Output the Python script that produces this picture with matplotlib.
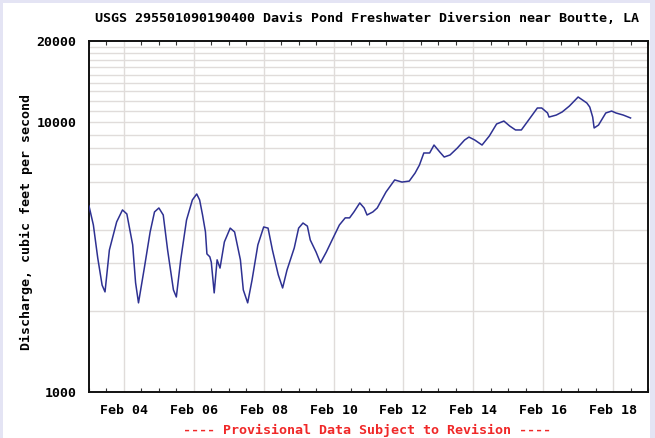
import matplotlib
matplotlib.use("Agg")
import matplotlib.pyplot as plt
import matplotlib.dates as mdates
from matplotlib.patches import Rectangle
from matplotlib.ticker import FixedLocator, NullFormatter, FixedFormatter
import pandas as pd

# Data: hours since Feb 03 00:00 and discharge (cfs)
hours = [0, 3, 6, 9, 11, 14, 19, 23, 26, 30, 32, 34, 38, 42, 45, 48, 51, 54, 58, 60,
         63, 67, 71, 74, 76, 78, 80, 81, 83, 84, 86, 88, 90, 93, 97, 100, 104, 106, 109,
         112, 116, 120, 123, 126, 130, 133, 136, 141, 144, 147, 150, 152, 156, 159, 163,
         167, 172, 176, 179, 182, 186, 189, 191, 195, 198, 204, 210, 215, 220, 224, 227,
         230, 234, 237, 241, 244, 248, 253, 258, 261, 265, 270, 275, 280, 285, 289, 293,
         297, 302, 308, 311, 315, 316, 321, 325, 330, 336, 339, 342, 344, 346, 347, 350,
         355, 359, 362, 367, 372]
discharge = [4890, 4160, 3140, 2490, 2350, 3360, 4270, 4730, 4570, 3510, 2540, 2140, 2880,
             3920, 4650, 4810, 4530, 3360, 2390, 2250, 3090, 4340, 5150, 5420, 5150, 4530,
             3920, 3250, 3170, 3030, 2330, 3090, 2880, 3600, 4050, 3920, 3090, 2390, 2140,
             2600, 3510, 4090, 4050, 3360, 2720, 2430, 2830, 3420, 4050, 4230, 4120, 3660,
             3300, 3010, 3300, 3660, 4160, 4420, 4420, 4650, 5020, 4810, 4530, 4650, 4810,
             5510, 6110, 6000, 6050, 6480, 6940, 7690, 7690, 8230, 7750, 7430, 7560, 8020,
             8590, 8810, 8590, 8230, 8890, 9850, 10100, 9680, 9360, 9360, 10190, 11290,
             11290, 10820, 10450, 10630, 10910, 11480, 12400, 12090, 11780, 11380, 10450,
             9520, 9760, 10820, 11000, 10820, 10630, 10370]

start = pd.Timestamp("2013-02-03")
times = start + pd.to_timedelta(hours, unit="h")

mono = "DejaVu Sans Mono"

fig = plt.figure(figsize=(6.55, 4.38), dpi=100, facecolor="#E4E4F4")
fig.patches.append(Rectangle((3 / 655, 0), 647 / 655, 435 / 438,
                             transform=fig.transFigure, facecolor="white",
                             edgecolor="none", zorder=-5))

ax = fig.add_axes([89 / 655, 1 - 392 / 438, (648 - 89) / 655, (392 - 41) / 438])
ax.set_zorder(2)
ax.plot(times, discharge, color="#2E3192", linewidth=1.1, zorder=3)

ax.set_yscale("log")
ax.set_ylim(1000, 20000)
ax.set_xlim(start, start + pd.Timedelta(days=16))

# y grid every 1000 cfs, labels only at 1000, 10000, 20000
ygrid = list(range(2000, 20000, 1000))
ax.yaxis.set_major_locator(FixedLocator([1000, 10000, 20000]))
ax.yaxis.set_major_formatter(FixedFormatter(["1000", "10000", "20000"]))
ax.yaxis.set_minor_locator(FixedLocator(ygrid))
ax.yaxis.set_minor_formatter(NullFormatter())
for v in ygrid:
    ax.axhline(v, color="#E0DCDA", linewidth=1, zorder=1)
ax.tick_params(axis="y", which="both", length=0, pad=9)

# x: labels every 2 days, small inward ticks every 12 hours
xticks = pd.date_range("2013-02-04", "2013-02-18", freq="2D")
ax.set_xticks(xticks)
ax.xaxis.set_major_formatter(mdates.DateFormatter("Feb %d"))
ax.xaxis.set_minor_locator(mdates.HourLocator(byhour=[0, 12]))
for t in xticks:
    ax.axvline(t, color="#E0DCDA", linewidth=1, zorder=1)
ax.tick_params(axis="x", which="major", length=0, pad=9)
ax.tick_params(axis="x", which="minor", direction="in", length=3, width=0.8,
               top=True, bottom=True, color="#333333")

for lab in ax.get_xticklabels() + ax.get_yticklabels():
    lab.set_fontfamily(mono)
    lab.set_fontweight("bold")
    lab.set_fontsize(9.5)

for s in ax.spines.values():
    s.set_color("#111111")
    s.set_linewidth(1.4)

ax.set_ylabel("Discharge, cubic feet per second", fontfamily=mono,
              fontweight="bold", fontsize=9.5)
ax.yaxis.set_label_coords(-0.101, 0.485)

fig.text(367 / 655, 1 - 18 / 438,
         "USGS 295501090190400 Davis Pond Freshwater Diversion near Boutte, LA",
         ha="center", va="center", fontfamily=mono, fontweight="bold", fontsize=9.6)
fig.text(367 / 655, 1 - 430 / 438,
         "---- Provisional Data Subject to Revision ----",
         ha="center", va="center", fontfamily=mono, fontweight="bold",
         fontsize=9.6, color="#F02828")

fig.savefig("out.png", dpi=100, facecolor=fig.get_facecolor())
